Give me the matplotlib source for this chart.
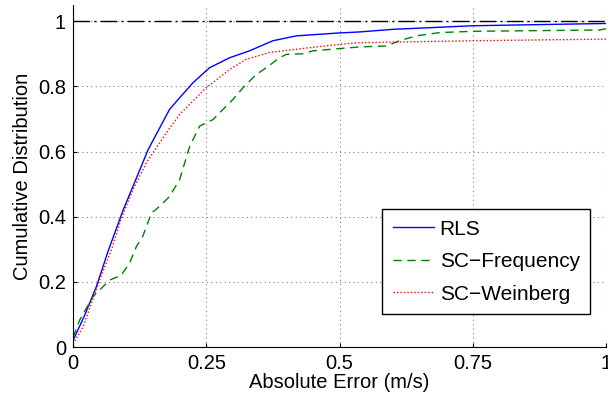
import numpy as np
import matplotlib.pyplot as plt

plt.rcParams['font.family'] = ['Liberation Sans', 'DejaVu Sans']

# CDF curves
rls_x = [0, 0.022, 0.044, 0.066, 0.094, 0.1125, 0.141, 0.181, 0.2, 0.225, 0.256, 0.294,
         0.331, 0.375, 0.419, 0.5, 0.5375, 0.6, 0.75, 1.0]
rls_y = [0.02, 0.098, 0.186, 0.295, 0.42, 0.493, 0.606, 0.729, 0.765, 0.811, 0.857, 0.888,
         0.909, 0.94, 0.955, 0.964, 0.967, 0.975, 0.986, 0.993]

freq_x = [0, 0.0125, 0.0375, 0.069, 0.09, 0.106, 0.119, 0.131, 0.147, 0.1625, 0.181, 0.2,
          0.219, 0.2375, 0.2625, 0.272, 0.3, 0.319, 0.344, 0.3625, 0.3875, 0.4, 0.431, 0.45,
          0.5, 0.5375, 0.5875, 0.6125, 0.644, 0.6875, 0.75, 0.9875, 1.0]
freq_y = [0.03, 0.083, 0.155, 0.206, 0.22, 0.257, 0.309, 0.34, 0.411, 0.432, 0.462, 0.514,
          0.616, 0.678, 0.698, 0.714, 0.76, 0.796, 0.837, 0.857, 0.888, 0.898, 0.9, 0.909,
          0.916, 0.921, 0.924, 0.94, 0.955, 0.965, 0.969, 0.973, 0.977]

wein_x = [0, 0.019, 0.05, 0.072, 0.091, 0.1125, 0.1375, 0.175, 0.2, 0.25, 0.294, 0.325,
          0.369, 0.419, 0.5, 0.5375, 0.75, 1.0]
wein_y = [0.01, 0.062, 0.206, 0.298, 0.396, 0.483, 0.565, 0.657, 0.714, 0.796, 0.852, 0.883,
          0.904, 0.914, 0.929, 0.934, 0.94, 0.945]

x_ticks = [0, 0.25, 0.5, 0.75, 1]
x_labels = ['0', '0.25', '0.5', '0.75', '1']
y_ticks = [0, 0.2, 0.4, 0.6, 0.8, 1]
y_labels = ['0', '0.2', '0.4', '0.6', '0.8', '1']

fig = plt.figure(figsize=(6.08, 4.07), dpi=100)
ax = fig.add_axes([0.12, 0.147, 0.877, 0.841])

ax.axhline(1, color='black', lw=1, linestyle=(0, (12, 3, 1.5, 3)))
ax.plot(rls_x, rls_y, color='blue', lw=1, label='RLS')
ax.plot(freq_x, freq_y, color='green', lw=1, linestyle=(0, (6, 4)), label='SC\u2212Frequency')
ax.plot(wein_x, wein_y, color='red', lw=1, linestyle=(0, (1, 1.5)), label='SC\u2212Weinberg')

ax.set_xlim(0, 1)
ax.set_ylim(0, 1.05)
ax.set_xticks(x_ticks)
ax.set_xticklabels(x_labels)
ax.set_yticks(y_ticks)
ax.set_yticklabels(y_labels)
ax.tick_params(direction='in', labelsize=14.5, length=3, pad=5)
ax.grid(True, linestyle=(0, (1, 3)), color='gray', lw=0.8)
for s in ['top', 'right']:
    ax.spines[s].set_visible(False)

ax.set_xlabel('Absolute Error (m/s)', fontsize=14.5, labelpad=0)
ax.set_ylabel('Cumulative Distribution', fontsize=14.5, labelpad=4)

leg = ax.legend(loc='lower right', bbox_to_anchor=(0.97, 0.0965), fontsize=15, handlelength=2.0,
                fancybox=False, edgecolor='black', framealpha=1, borderpad=0.5,
                labelspacing=0.65, handletextpad=0.25, borderaxespad=0)
leg.get_frame().set_linewidth(1)

fig.savefig('out.png', dpi=100)
